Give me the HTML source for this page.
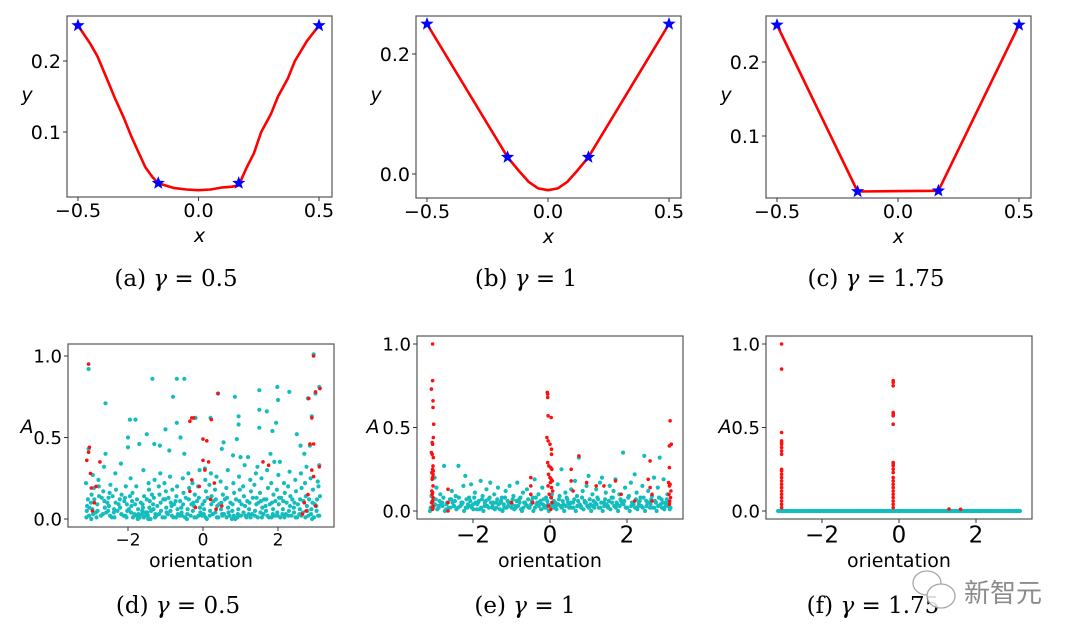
<!DOCTYPE html>
<html><head><meta charset="utf-8"><style>
body{margin:0;background:#fff;width:1080px;height:638px;overflow:hidden}
svg{display:block}
.t{font-family:"DejaVu Sans","Liberation Sans",sans-serif;fill:#000}
.cap{font-family:"DejaVu Serif","Liberation Serif",serif;font-size:23px;fill:#000}
</style></head><body>
<svg id="fig" width="1080" height="638" xmlns="http://www.w3.org/2000/svg"></svg>
<script>
// ---- data: top row curves ----
const aX=[-0.5,-0.45,-0.42,-0.38,-0.35,-0.31,-0.28,-0.25,-0.22,-0.19,-0.167,-0.13,-0.1,-0.05,0,0.05,0.1,0.14,0.167,0.18,0.2,0.23,0.26,0.3,0.33,0.37,0.4,0.45,0.5];
const aY=[0.25,0.225,0.207,0.175,0.15,0.12,0.095,0.072,0.05,0.036,0.028,0.024,0.021,0.019,0.018,0.019,0.022,0.023,0.025,0.035,0.05,0.07,0.1,0.125,0.15,0.175,0.2,0.228,0.25];
const bX=[-0.5,-0.167,-0.12,-0.08,-0.04,0,0.04,0.08,0.12,0.167,0.5];
const bY=[0.25,0.028,0.005,-0.013,-0.024,-0.027,-0.024,-0.013,0.005,0.028,0.25];
const cX=[-0.5,-0.167,0.167,0.5];
const cY=[0.25,0.025,0.026,0.25];
const starsX=[-0.5,-0.167,0.167,0.5];
const aStarY=[0.25,0.028,0.028,0.25];
const bStarY=[0.25,0.028,0.028,0.25];
const cStarY=[0.25,0.025,0.026,0.25];
const topXTicks=[-0.5,0,0.5];
const topXTickLabels=["−0.5","0.0","0.5"];
const aYTicks=[0.1,0.2], aYTickLabels=["0.1","0.2"];
const bYTicks=[0,0.2], bYTickLabels=["0.0","0.2"];
const cYTicks=[0.1,0.2], cYTickLabels=["0.1","0.2"];
// ---- data: bottom row scatter (flat x,y pairs) ----
const dCyan=[-3.05,0.92,-2.6,0.71,-1.95,0.61,-1.8,0.61,-2.0,0.5,-1.35,0.86,-0.7,0.86,-0.5,0.86,-0.8,0.75,-0.7,0.59,-1.0,0.55,-0.6,0.5,-1.5,0.52,-0.2,0.62,0.4,0.77,0.2,0.62,0.85,0.75,0.95,0.63,0.95,0.58,0.9,0.49,1.5,0.79,1.5,0.56,1.5,0.67,1.7,0.66,1.85,0.54,1.95,0.59,1.98,0.81,2.0,0.73,2.3,0.78,2.5,0.52,2.8,0.74,2.9,0.63,2.95,1.01,3.0,0.77,3.1,0.81,-3.05,0.43,-2.6,0.4,-2.0,0.44,-1.7,0.46,-1.3,0.46,-1.15,0.45,-0.9,0.42,-0.5,0.4,0.5,0.43,0.55,0.47,0.8,0.39,1.0,0.38,1.2,0.38,1.45,0.32,1.8,0.4,1.9,0.35,2.05,0.35,2.6,0.45,2.7,0.4,2.85,0.45,3.1,0.33,
-3.1,0.05,-3.07,0.12,-3.12,0.22,-3.04,0.02,-3.09,0.08,-2.97,0.15,-2.93,0.03,-2.99,0.1,-2.91,0.19,-2.95,0.06,-2.94,0.27,-2.82,0.09,-2.78,0.2,-2.84,0.01,-2.77,0.14,-2.81,0.05,-2.79,0.24,-2.67,0.03,-2.63,0.11,-2.66,0.17,-2.62,0.07,-2.64,0.32,-2.52,0.13,-2.48,0.02,-2.51,0.08,-2.47,0.21,-2.53,0.05,-2.49,0.16,-2.37,0.06,-2.33,0.1,-2.36,0.01,-2.32,0.18,-2.38,0.04,-2.34,0.28,-2.22,0.12,-2.18,0.03,-2.21,0.07,-2.17,0.15,-2.19,0.34,-2.07,0.02,-2.03,0.09,-2.06,0.2,-2.02,0.05,-2.08,0.13,-2.04,0.01,-1.92,0.04,-1.88,0.16,-1.91,0.08,-1.87,0.01,-1.93,0.25,-1.89,0.11,-1.77,0.02,-1.73,0.06,-1.76,0.12,-1.72,0.03,-1.78,0.2,-1.74,0.0,-1.62,0.05,-1.58,0.01,-1.61,0.09,-1.57,0.14,-1.63,0.03,-1.59,0.3,-1.6,0.07,-1.47,0.02,-1.43,0.07,-1.46,0.0,-1.42,0.11,-1.48,0.04,-1.44,0.18,-1.45,0.22,-1.32,0.06,-1.28,0.01,-1.31,0.13,-1.27,0.03,-1.33,0.09,-1.29,0.24,-1.17,0.03,-1.13,0.1,-1.16,0.15,-1.12,0.05,-1.18,0.2,-1.14,0.28,-1.02,0.01,-0.98,0.07,-1.01,0.12,-0.97,0.04,-1.03,0.22,-0.99,0.17,-0.87,0.05,-0.83,0.02,-0.86,0.1,-0.82,0.18,-0.88,0.26,-0.84,0.08,-0.72,0.01,-0.68,0.06,-0.71,0.14,-0.67,0.03,-0.73,0.11,-0.69,0.2,-0.57,0.04,-0.53,0.09,-0.56,0.02,-0.52,0.16,-0.58,0.07,-0.54,0.25,-0.42,0.03,-0.38,0.12,-0.41,0.06,-0.37,0.19,-0.43,0.0,-0.39,0.28,-0.27,0.05,-0.23,0.01,-0.26,0.1,-0.22,0.15,-0.28,0.22,-0.24,0.08,-0.12,0.02,-0.08,0.07,-0.11,0.13,-0.07,0.04,-0.13,0.2,-0.09,0.3,0.03,0.06,0.07,0.01,0.04,0.11,0.08,0.17,0.02,0.03,0.06,0.24,0.05,0.31,0.18,0.02,0.22,0.09,0.19,0.05,0.23,0.14,0.17,0.21,0.21,0.28,0.33,0.04,0.37,0.01,0.34,0.12,0.38,0.08,0.32,0.18,0.36,0.26,0.48,0.06,0.52,0.02,0.49,0.1,0.53,0.15,0.47,0.23,0.51,0.03,0.63,0.01,0.67,0.07,0.64,0.13,0.68,0.04,0.62,0.19,0.66,0.3,0.78,0.05,0.82,0.02,0.79,0.09,0.83,0.16,0.77,0.0,0.81,0.22,0.93,0.03,0.97,0.11,0.94,0.06,0.98,0.18,0.92,0.01,0.96,0.26,1.08,0.04,1.12,0.08,1.09,0.14,1.13,0.02,1.07,0.2,1.11,0.33,1.23,0.06,1.27,0.01,1.24,0.1,1.28,0.17,1.22,0.03,1.26,0.24,1.38,0.02,1.42,0.09,1.39,0.05,1.43,0.13,1.37,0.21,1.41,0.28,1.53,0.04,1.57,0.01,1.54,0.11,1.58,0.07,1.52,0.16,1.56,0.25,1.68,0.05,1.72,0.02,1.69,0.12,1.73,0.19,1.67,0.08,1.71,0.3,1.83,0.01,1.87,0.06,1.84,0.1,1.88,0.15,1.82,0.22,1.86,0.03,1.98,0.04,2.02,0.09,1.99,0.02,2.03,0.13,1.97,0.18,2.01,0.27,2.13,0.06,2.17,0.01,2.14,0.11,2.18,0.16,2.12,0.03,2.16,0.22,2.28,0.02,2.32,0.08,2.29,0.05,2.33,0.14,2.27,0.2,2.31,0.29,2.43,0.04,2.47,0.01,2.44,0.1,2.48,0.17,2.42,0.07,2.46,0.24,2.58,0.06,2.62,0.02,2.59,0.12,2.63,0.19,2.57,0.03,2.61,0.28,2.73,0.01,2.77,0.08,2.74,0.14,2.78,0.05,2.72,0.22,2.76,0.32,2.88,0.03,2.92,0.1,2.89,0.06,2.93,0.18,2.87,0.25,2.91,0.0,3.03,0.05,3.07,0.02,3.04,0.12,3.08,0.2,3.02,0.08,3.06,0.23];
const dCyanDense=[-3.11,0.01,-3.03,0.07,-2.98,0.0,-2.9,0.12,-2.86,0.04,-2.72,0.02,-2.7,0.13,-2.58,0.04,-2.55,0.1,-2.43,0.01,-2.41,0.14,-2.28,0.05,-2.25,0.09,-2.12,0.02,-2.1,0.11,-1.98,0.06,-1.95,0.14,-1.83,0.03,-1.81,0.09,-1.69,0.01,-1.66,0.1,-1.54,0.04,-1.52,0.02,-1.5,0.12,-1.4,0.0,-1.38,0.05,-1.36,0.15,-1.24,0.02,-1.22,0.08,-1.08,0.01,-1.06,0.12,-0.94,0.03,-0.92,0.13,-0.79,0.01,-0.77,0.09,-0.63,0.02,-0.61,0.11,-0.48,0.01,-0.46,0.13,-0.33,0.02,-0.31,0.09,-0.18,0.01,-0.16,0.11,-0.03,0.02,-0.01,0.09,0.1,0.0,0.12,0.13,0.26,0.03,0.28,0.11,0.41,0.01,0.43,0.09,0.56,0.03,0.58,0.12,0.71,0.02,0.73,0.1,0.86,0.0,0.88,0.12,1.01,0.02,1.03,0.09,1.16,0.01,1.18,0.11,1.31,0.03,1.33,0.13,1.46,0.01,1.48,0.1,1.61,0.03,1.63,0.12,1.76,0.01,1.78,0.09,1.91,0.02,1.93,0.11,2.06,0.01,2.08,0.13,2.21,0.03,2.23,0.1,2.36,0.02,2.38,0.12,2.51,0.01,2.53,0.09,2.66,0.04,2.68,0.11,2.81,0.02,2.83,0.12,2.96,0.01,2.98,0.09,3.1,0.02,3.12,0.14];
const dRed=[-3.05,0.95,-3.1,0.36,-3.05,0.41,-3.03,0.44,-3.0,0.28,-2.98,0.19,-2.9,0.1,-2.95,0.05,-2.85,0.2,-2.75,0.35,-0.35,0.6,-0.3,0.62,-0.25,0.62,0.0,0.49,0.1,0.48,0.22,0.61,0.4,0.77,-0.3,0.24,-0.35,0.17,-0.1,0.2,0.0,0.36,0.05,0.3,0.15,0.35,0.3,0.22,0.2,0.12,0.35,0.06,0.5,0.08,-0.2,0.07,1.6,0.35,1.75,0.33,2.9,0.62,2.95,1.0,3.0,0.78,3.12,0.8,2.82,0.74,2.85,0.46,2.95,0.46,2.9,0.3,2.95,0.26,3.1,0.32,2.8,0.15,2.7,0.1,2.75,0.05,2.65,0.03,3.0,0.08];
const eCyan=[-3.1,0.02,-3.05,0.06,-3.0,0.2,-2.95,0.14,-3.08,0.09,-2.9,0.03,-2.85,0.1,-2.8,0.05,-2.75,0.27,-2.7,0.01,-2.6,0.07,-2.55,0.12,-2.5,0.03,-2.45,0.09,-2.38,0.27,-2.3,0.05,-2.25,0.15,-2.2,0.21,-2.15,0.02,-2.1,0.08,-2.05,0.16,-2.0,0.04,-1.95,0.11,-1.9,0.01,-1.85,0.06,-1.8,0.18,-1.75,0.09,-1.7,0.03,-1.65,0.13,-1.6,0.07,-1.55,0.17,-1.5,0.02,-1.45,0.1,-1.4,0.05,-1.35,0.14,-1.3,0.01,-1.25,0.08,-1.2,0.04,-1.15,0.12,-1.1,0.06,-1.05,0.15,-1.0,0.02,-0.95,0.09,-0.9,0.03,-0.85,0.17,-0.8,0.07,-0.75,0.01,-0.7,0.11,-0.65,0.05,-0.6,0.13,-0.55,0.02,-0.45,0.08,-0.4,0.19,-0.35,0.04,-0.3,0.1,-0.25,0.06,-0.2,0.14,-0.15,0.02,-0.1,0.08,-0.05,0.04,0.05,0.1,0.1,0.06,0.15,0.03,0.2,0.16,0.25,0.09,0.3,0.25,0.35,0.04,0.4,0.11,0.45,0.07,0.5,0.02,0.55,0.13,0.6,0.05,0.65,0.18,0.7,0.09,0.75,0.32,0.8,0.03,0.85,0.12,0.9,0.06,0.95,0.15,1.0,0.21,1.05,0.04,1.1,0.1,1.15,0.02,1.2,0.13,1.25,0.07,1.3,0.17,1.35,0.2,1.4,0.05,1.45,0.11,1.5,0.03,1.55,0.15,1.6,0.08,1.65,0.12,1.7,0.19,1.75,0.04,1.8,0.1,1.85,0.06,1.9,0.35,1.95,0.14,2.0,0.02,2.05,0.09,2.1,0.17,2.15,0.05,2.2,0.22,2.25,0.11,2.3,0.03,2.35,0.08,2.4,0.15,2.45,0.33,2.5,0.06,2.55,0.12,2.6,0.02,2.65,0.09,2.7,0.2,2.75,0.05,2.8,0.14,2.85,0.32,2.9,0.07,2.95,0.19,3.0,0.03,3.05,0.1,3.1,0.05,
-3.12,0.0,-3.02,0.03,-2.93,0.01,-2.83,0.04,-2.73,0.0,-2.63,0.02,-2.53,0.05,-2.43,0.01,-2.33,0.03,-2.23,0.0,-2.13,0.04,-2.03,0.02,-1.93,0.05,-1.83,0.01,-1.73,0.0,-1.63,0.03,-1.53,0.05,-1.43,0.01,-1.33,0.04,-1.23,0.0,-1.13,0.02,-1.03,0.05,-0.93,0.01,-0.83,0.03,-0.73,0.0,-0.63,0.04,-0.53,0.02,-0.43,0.0,-0.33,0.05,-0.23,0.01,-0.13,0.03,-0.03,0.0,0.07,0.04,0.17,0.01,0.27,0.03,0.37,0.0,0.47,0.05,0.57,0.02,0.67,0.0,0.77,0.04,0.87,0.01,0.97,0.03,1.07,0.0,1.17,0.05,1.27,0.02,1.37,0.0,1.47,0.04,1.57,0.01,1.67,0.03,1.77,0.0,1.87,0.05,1.97,0.02,2.07,0.0,2.17,0.04,2.27,0.01,2.37,0.03,2.47,0.0,2.57,0.05,2.67,0.02,2.77,0.0,2.87,0.04,2.97,0.01,3.07,0.03,
-3.07,0.05,-2.97,0.07,-2.87,0.06,-2.77,0.08,-2.67,0.05,-2.57,0.07,-2.47,0.06,-2.37,0.08,-2.27,0.05,-2.17,0.07,-2.07,0.06,-1.97,0.08,-1.87,0.05,-1.77,0.07,-1.67,0.06,-1.57,0.08,-1.47,0.05,-1.37,0.07,-1.27,0.06,-1.17,0.08,-1.07,0.05,-0.97,0.07,-0.87,0.06,-0.77,0.08,-0.67,0.05,-0.57,0.07,-0.47,0.06,-0.37,0.08,-0.27,0.05,-0.17,0.07,-0.07,0.06,0.03,0.08,0.13,0.05,0.23,0.07,0.33,0.06,0.43,0.08,0.53,0.05,0.63,0.07,0.73,0.06,0.83,0.08,0.93,0.05,1.03,0.07,1.13,0.06,1.23,0.08,1.33,0.05,1.43,0.07,1.53,0.06,1.63,0.08,1.73,0.05,1.83,0.07,1.93,0.06,2.03,0.08,2.13,0.05,2.23,0.07,2.33,0.06,2.43,0.08,2.53,0.05,2.63,0.07,2.73,0.06,2.83,0.08,2.93,0.05,3.03,0.07,3.13,0.02,
-3.04,0.02,-2.99,0.04,-2.89,0.02,-2.79,0.03,-2.69,0.04,-2.59,0.02,-2.49,0.03,-2.39,0.02,-2.29,0.04,-2.19,0.02,-2.09,0.03,-1.99,0.01,-1.89,0.04,-1.79,0.02,-1.69,0.05,-1.59,0.02,-1.49,0.03,-1.39,0.02,-1.29,0.05,-1.19,0.02,-1.09,0.03,-0.99,0.04,-0.89,0.02,-0.79,0.05,-0.69,0.02,-0.59,0.03,-0.49,0.04,-0.39,0.02,-0.29,0.03,-0.19,0.04,-0.09,0.02,0.01,0.03,0.11,0.02,0.21,0.04,0.31,0.02,0.41,0.03,0.51,0.04,0.61,0.02,0.71,0.03,0.81,0.02,0.91,0.05,1.01,0.02,1.11,0.03,1.21,0.04,1.31,0.02,1.41,0.03,1.51,0.02,1.61,0.05,1.71,0.02,1.81,0.03,1.91,0.04,2.01,0.02,2.11,0.03,2.21,0.02,2.31,0.05,2.41,0.02,2.51,0.03,2.61,0.04,2.71,0.02,2.81,0.03,2.91,0.02,3.01,0.05,3.11,0.01];
const eRed=[-3.05,1.0,-3.05,0.78,-3.08,0.73,-3.04,0.66,-3.04,0.62,-3.02,0.52,-3.03,0.44,-3.06,0.41,-3.05,0.4,-3.08,0.35,-3.06,0.34,-3.03,0.32,-3.04,0.27,-3.05,0.25,-3.03,0.24,-3.07,0.23,-3.04,0.22,-3.05,0.2,-3.06,0.19,-3.04,0.15,-3.07,0.12,-3.05,0.11,-3.06,0.1,-3.04,0.08,-3.05,0.06,-3.07,0.05,-3.04,0.03,-3.06,0.02,-3.05,0.01,
-0.07,0.71,-0.06,0.7,-0.06,0.68,-0.05,0.57,0.03,0.56,-0.08,0.44,-0.05,0.42,0.0,0.4,0.04,0.37,0.04,0.34,-0.06,0.29,-0.03,0.27,0.02,0.26,0.05,0.25,-0.04,0.22,0.0,0.2,0.03,0.19,0.06,0.18,0.01,0.17,-0.05,0.15,0.04,0.14,0.07,0.12,-0.02,0.1,0.03,0.08,0.05,0.05,-0.04,0.03,0.02,0.01,
3.12,0.54,3.15,0.4,3.1,0.39,3.1,0.26,3.08,0.17,3.12,0.16,3.1,0.15,3.14,0.12,3.09,0.1,3.13,0.08,3.11,0.06,3.1,0.04,
-2.65,0.13,-2.65,0.05,-2.65,0.0,-0.5,0.2,-0.5,0.15,-0.5,0.1,-0.45,0.05,0.55,0.25,0.55,0.18,0.6,0.12,0.75,0.33,2.6,0.3,2.6,0.14,2.65,0.1,2.65,0.06,2.55,0.19,1.7,0.18,1.4,0.15,1.2,0.15,0.95,0.17,2.2,0.06,-1.0,0.05,1.85,0.1];
const fCyanX=[-3.14,-3.1,-3.05,-3.0,-2.95,-2.9,-2.85,-2.8,-2.75,-2.7,-2.65,-2.6,-2.55,-2.5,-2.45,-2.4,-2.35,-2.3,-2.25,-2.2,-2.15,-2.1,-2.05,-2.0,-1.95,-1.9,-1.85,-1.8,-1.75,-1.7,-1.65,-1.6,-1.55,-1.5,-1.45,-1.4,-1.35,-1.3,-1.25,-1.2,-1.15,-1.1,-1.05,-1.0,-0.95,-0.9,-0.85,-0.8,-0.75,-0.7,-0.65,-0.6,-0.55,-0.5,-0.45,-0.4,-0.35,-0.3,-0.25,-0.2,-0.15,-0.1,-0.05,0.0,0.05,0.1,0.15,0.2,0.25,0.3,0.35,0.4,0.45,0.5,0.55,0.6,0.65,0.7,0.75,0.8,0.85,0.9,0.95,1.0,1.05,1.1,1.15,1.2,1.25,1.3,1.35,1.4,1.45,1.5,1.55,1.6,1.65,1.7,1.75,1.8,1.85,1.9,1.95,2.0,2.05,2.1,2.15,2.2,2.25,2.3,2.35,2.4,2.45,2.5,2.55,2.6,2.65,2.7,2.75,2.8,2.85,2.9,2.95,3.0,3.05,3.1,3.14];
const fRed=[-3.05,1.0,-3.05,0.85,-3.05,0.47,-3.05,0.42,-3.05,0.41,-3.05,0.4,-3.05,0.38,-3.05,0.36,-3.05,0.34,-3.05,0.25,-3.05,0.24,-3.05,0.22,-3.05,0.2,-3.05,0.18,-3.05,0.16,-3.05,0.14,-3.05,0.12,-3.05,0.1,-3.05,0.08,-3.05,0.06,-3.05,0.04,-3.05,0.02,
-0.15,0.78,-0.15,0.77,-0.15,0.75,-0.15,0.59,-0.15,0.58,-0.15,0.57,-0.15,0.52,-0.15,0.29,-0.15,0.28,-0.15,0.27,-0.15,0.25,-0.15,0.23,-0.15,0.2,-0.15,0.18,-0.15,0.16,-0.15,0.14,-0.15,0.12,-0.15,0.1,-0.15,0.08,-0.15,0.06,-0.15,0.04,-0.15,0.02,
1.3,0.012,1.6,0.01];
const botXTicks=[-2,0,2], botXTickLabels=["−2","0","2"];
const botYTicks=[0,0.5,1.0], botYTickLabels=["0.0","0.5","1.0"];

// ---- layout ----
const NS="http://www.w3.org/2000/svg";
const svg=document.getElementById('fig');
function mk(tag,attrs,parent){const e=document.createElementNS(NS,tag);for(const k in attrs)e.setAttribute(k,attrs[k]);(parent||svg).appendChild(e);return e;}
function lin(d0,d1,p0,p1){return v=>p0+(v-d0)*(p1-p0)/(d1-d0);}
function panel(name,box,xs,ys,xt,xtl,yt,ytl,xfs,yfs){
  const g=mk('g',{});
  
  
  const fr=mk('rect',{x:box[0],y:box[1],width:box[2]-box[0],height:box[3]-box[1],fill:'none',stroke:'#555','stroke-width':1.2},g);
  
  
  xt.forEach((v,i)=>{const px=xs(v);
    mk('line',{x1:px,x2:px,y1:box[3],y2:box[3]+4,stroke:'#333'},g);
    const t=mk('text',{x:px,y:box[3]+5+xfs*0.8,'text-anchor':'middle','font-size':xfs,class:'t'},g);
    t.textContent=xtl[i];
    
    });
  yt.forEach((v,i)=>{const py=ys(v);
    mk('line',{x1:box[0]-4,x2:box[0],y1:py,y2:py,stroke:'#333'},g);
    const t=mk('text',{x:box[0]-6,y:py+yfs*0.36,'text-anchor':'end','font-size':yfs,class:'t'},g);
    t.textContent=ytl[i];
    
    });
  return g;
}
function label(txt,x,y,fs,name,italic,anchor){const t=mk('text',{x:x,y:y,'font-size':fs,class:'t','text-anchor':anchor||'middle','font-style':italic?'oblique':'normal'});t.textContent=txt;
  
  return t;}
function star(cx,cy,r,g){let p=[];for(let i=0;i<10;i++){const rr=i%2?r*0.42:r;const a=-Math.PI/2+i*Math.PI/5;p.push((cx+rr*Math.cos(a)).toFixed(1)+','+(cy+rr*Math.sin(a)).toFixed(1));}
  const s=mk('polygon',{points:p.join(' '),fill:'#0000ff'},g);
  
  }
function curvePanel(name,box,xs,ys,X,Y,SY,yt,ytl,cap,cx){
  const g=panel(name,box,xs,ys,topXTicks,topXTickLabels,yt,ytl,19,19);
  const d=X.map((v,i)=>(i?'L':'M')+xs(v).toFixed(1)+','+ys(Y[i]).toFixed(1)).join('');
  const p=mk('path',{d:d,fill:'none',stroke:'#ff0000','stroke-width':2.6,'stroke-linejoin':'round'},g);
  
  
  starsX.forEach((v,i)=>star(xs(v),ys(SY[i]),7,g));
  label('x',(box[0]+box[2])/2,box[3]+45,19,'x-axis-title',true);
  label('y',box[0]-40,101,19,'y-axis-title',true);
  const c=mk('text',{x:cx,y:286,'text-anchor':'middle',class:'cap'});c.innerHTML=cap;
  
  
}
function scatterPanel(name,box,xs,ys,cyan,red,xfs,cap,cx,capy,ylabx){
  const g=panel(name,box,xs,ys,botXTicks,botXTickLabels,botYTicks,botYTickLabels,xfs,18);
  for(let i=0;i<cyan.length;i+=2){const c=mk('circle',{cx:xs(cyan[i]).toFixed(1),cy:ys(cyan[i+1]).toFixed(1),r:2.1,fill:'#14bdbd'},g);
    
    }
  for(let i=0;i<red.length;i+=2){const c=mk('circle',{cx:xs(red[i]).toFixed(1),cy:ys(red[i+1]).toFixed(1),r:1.8,fill:'#ff1010'},g);
    
    }
  label('orientation',(box[0]+box[2])/2,567,19,'x-axis-title',false);
  label('A',ylabx,433,19,'y-axis-title',true);
  const c=mk('text',{x:cx,y:capy,'text-anchor':'middle',class:'cap'});c.innerHTML=cap;
  
  
}
curvePanel('panel-a',[67,16,332,197],lin(-0.5,0.5,78,319),lin(0.1,0.2,132,61),aX,aY,aStarY,aYTicks,aYTickLabels,'(a) <tspan font-style="italic">γ</tspan> = 0.5',176);
curvePanel('panel-b',[416,16,681,198],lin(-0.5,0.5,427,669),lin(0,0.2,174,54),bX,bY,bStarY,bYTicks,bYTickLabels,'(b) <tspan font-style="italic">γ</tspan> = 1',526);
curvePanel('panel-c',[766,16,1031,198],lin(-0.5,0.5,777,1019),lin(0.1,0.2,136,62),cX,cY,cStarY,cYTicks,cYTickLabels,'(c) <tspan font-style="italic">γ</tspan> = 1.75',876);
scatterPanel('panel-d',[68,344,334,527],lin(-2,2,128,278),lin(0,1,519,356),dCyan.concat(dCyanDense),dRed,17,'(d) <tspan font-style="italic">γ</tspan> = 0.5',178,613,27);
scatterPanel('panel-e',[417,336,683,519],lin(-2,2,473,627),lin(0,1,511,344),eCyan,eRed,23,'(e) <tspan font-style="italic">γ</tspan> = 1',525,613,373);
const fC=[];fCyanX.forEach(v=>{fC.push(v,0);});
scatterPanel('panel-f',[766,336,1032,519],lin(-2,2,822,976),lin(0,1,511,344),fC,fRed,23,'(f) <tspan font-style="italic">γ</tspan> = 1.75',873,613,725);
// watermark
const wm=mk('g',{opacity:0.85});


mk('ellipse',{cx:927,cy:583,rx:14,ry:12,fill:'#fff',stroke:'#999','stroke-width':1.3},wm);
mk('ellipse',{cx:941,cy:596,rx:14,ry:12,fill:'#fff',stroke:'#999','stroke-width':1.3},wm);
const wt=mk('text',{x:964,y:602,'font-size':26,fill:'#777','font-family':'"Liberation Sans","Noto Sans CJK SC",sans-serif'},wm);
wt.textContent='新智元';


</script>
</body></html>
